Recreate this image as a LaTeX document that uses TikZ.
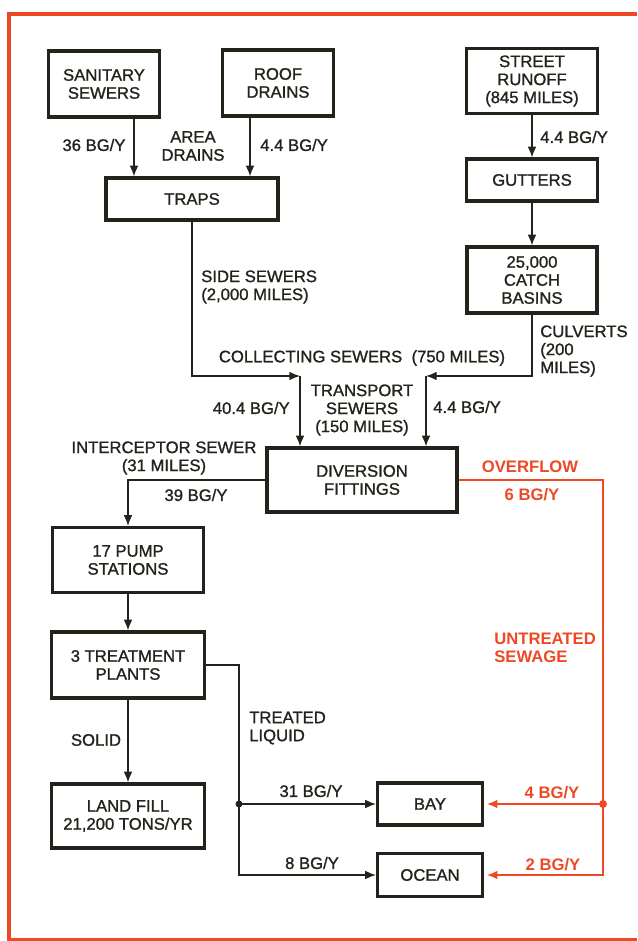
\documentclass[tikz,border=0pt]{standalone}
\usepackage{fontspec}
\setmainfont{Liberation Sans}
\newfontfamily\labelfont[FakeBold=1.2]{Liberation Sans}
\usetikzlibrary{arrows.meta,positioning}
\definecolor{inkdark}{RGB}{35,35,28}
\definecolor{overred}{RGB}{238,72,36}

\begin{document}
\begin{tikzpicture}[
    x=0.75pt, y=-0.75pt,
    >={Latex[length=8pt,width=6.5pt]},
    box/.style={draw=inkdark,line width=2.4pt,rectangle,align=center,inner sep=1pt,
      text=inkdark,font=\labelfont\fontsize{12.5}{13.5}\selectfont},
    lbl/.style={text=inkdark,font=\labelfont\fontsize{12.5}{13.5}\selectfont,inner sep=0pt,align=center},
    redlbl/.style={lbl,text=overred,font=\bfseries\fontsize{12.5}{13.5}\selectfont},
    flow/.style={draw=inkdark,->,line width=1pt},
    spill/.style={draw=overred,->,line width=1.4pt,shorten >=2pt}
  ]
    \useasboundingbox (0,0) rectangle (637,941);
    \draw[overred,line width=2.5pt] (637,14) -- (9,14) -- (9,940) -- (637,940);

    % boxes
    \node[box,minimum width=83pt,minimum height=49.5pt] (san) at (104,84) {SANITARY\\SEWERS};
    \node[box,minimum width=83pt,minimum height=49.5pt] (roof) at (278,83) {ROOF\\DRAINS};
    \node[box,minimum width=129pt,minimum height=31.5pt] (traps) at (192,199) {TRAPS};
    \node[box,minimum width=98pt,minimum height=48.75pt] (street) at (532,81) {STREET\\RUNOFF\\(845 MILES)};
    \node[box,minimum width=98pt,minimum height=31.5pt] (gutters) at (532,180) {GUTTERS};
    \node[box,minimum width=97.5pt,minimum height=49.5pt] (catch) at (532,280) {25,000\\CATCH\\BASINS};
    \node[box,minimum width=142.5pt,minimum height=48pt] (div) at (362,480) {DIVERSION\\FITTINGS};
    \node[box,minimum width=113pt,minimum height=48.75pt] (pump) at (128,560) {17 PUMP\\STATIONS};
    \node[box,minimum width=115pt,minimum height=49.5pt] (treat) at (128,665) {3 TREATMENT\\PLANTS};
    \node[box,minimum width=115pt,minimum height=48pt] (land) at (128,816) {LAND FILL\\21,200 TONS/YR};
    \node[box,minimum width=78.75pt,minimum height=31.5pt] (bay) at (430,804) {BAY};
    \node[box,minimum width=78.75pt,minimum height=32pt] (ocean) at (430,875) {OCEAN};

    % bends and junctions
    \coordinate (colL) at (300,376);
    \coordinate (colR) at (426,376);
    \coordinate (split) at (239,804);
    \coordinate (osplit) at (603,804);

    % flows
    \draw[flow] ([xshift=22.5pt]san.south) -- ([xshift=22.5pt]san.south |- traps.north);
    \draw[flow] ([xshift=-21pt]roof.south) -- ([xshift=-21pt]roof.south |- traps.north);
    \draw[flow] (street) -- (gutters);
    \draw[flow] (gutters) -- (catch);
    \draw[flow] (traps.south) |- (colL);
    \draw[flow] (colL) -- (colL |- div.north);
    \draw[flow] (catch.south) |- (colR);
    \draw[flow] (colR) -- (colR |- div.north);
    \draw[flow] (div.west) -| (pump.north);
    \draw[flow] (pump) -- (treat);
    \draw[flow] (treat) -- (land);
    \draw[flow,-] (treat.east) -| (split);
    \draw[flow] (split) -- (bay.west);
    \draw[flow] (split) |- (ocean.west);
    \fill[inkdark] (split) circle (3.5);

    \draw[spill,-,shorten >=0pt] (div.east) -| (osplit);
    \draw[spill] (osplit) -- (bay.east);
    \draw[spill] (osplit) |- (ocean.east);
    \fill[overred] (osplit) circle (4);

    % labels
    \node[lbl] (l36) at (94,145) {36 BG/Y};
    \node[lbl] (larea) at (193,146) {AREA\\DRAINS};
    \node[lbl,anchor=west] (lroof) at (260,145) {4.4 BG/Y};
    \node[lbl,anchor=west] (lstreet) at (540,137) {4.4 BG/Y};
    \node[lbl,anchor=west,align=left] (lside) at (201,287) {SIDE SEWERS\\(2,000 MILES)};
    \node[lbl] (lcoll) at (362,358) {COLLECTING SEWERS~~(750 MILES)};
    \node[lbl,anchor=east] (l404) at (290,408) {40.4 BG/Y};
    \node[lbl] (ltrans) at (362,410) {TRANSPORT\\SEWERS\\(150 MILES)};
    \node[lbl,anchor=west] (lcul44) at (433,407) {4.4 BG/Y};
    \node[lbl,anchor=west,align=left] (lcul) at (540,351) {CULVERTS\\(200\\MILES)};
    \node[lbl] (licpt) at (164,458) {INTERCEPTOR SEWER\\(31 MILES)};
    \node[lbl] (l39) at (196,495) {39 BG/Y};
    \node[lbl] (lsolid) at (96,740) {SOLID};
    \node[lbl,anchor=west,align=left] (ltreat) at (249,728) {TREATED\\LIQUID};
    \node[lbl] (l31) at (311,791) {31 BG/Y};
    \node[lbl] (l8) at (312,863) {8 BG/Y};
    \node[redlbl] (lover) at (530,467) {OVERFLOW};
    \node[redlbl] (l6) at (532,495) {6 BG/Y};
    \node[redlbl,anchor=west,align=left] (luntr) at (494,648) {UNTREATED\\SEWAGE};
    \node[redlbl] (l4) at (552,793) {4 BG/Y};
    \node[redlbl] (l2) at (553,865) {2 BG/Y};
\end{tikzpicture}
\end{document}
